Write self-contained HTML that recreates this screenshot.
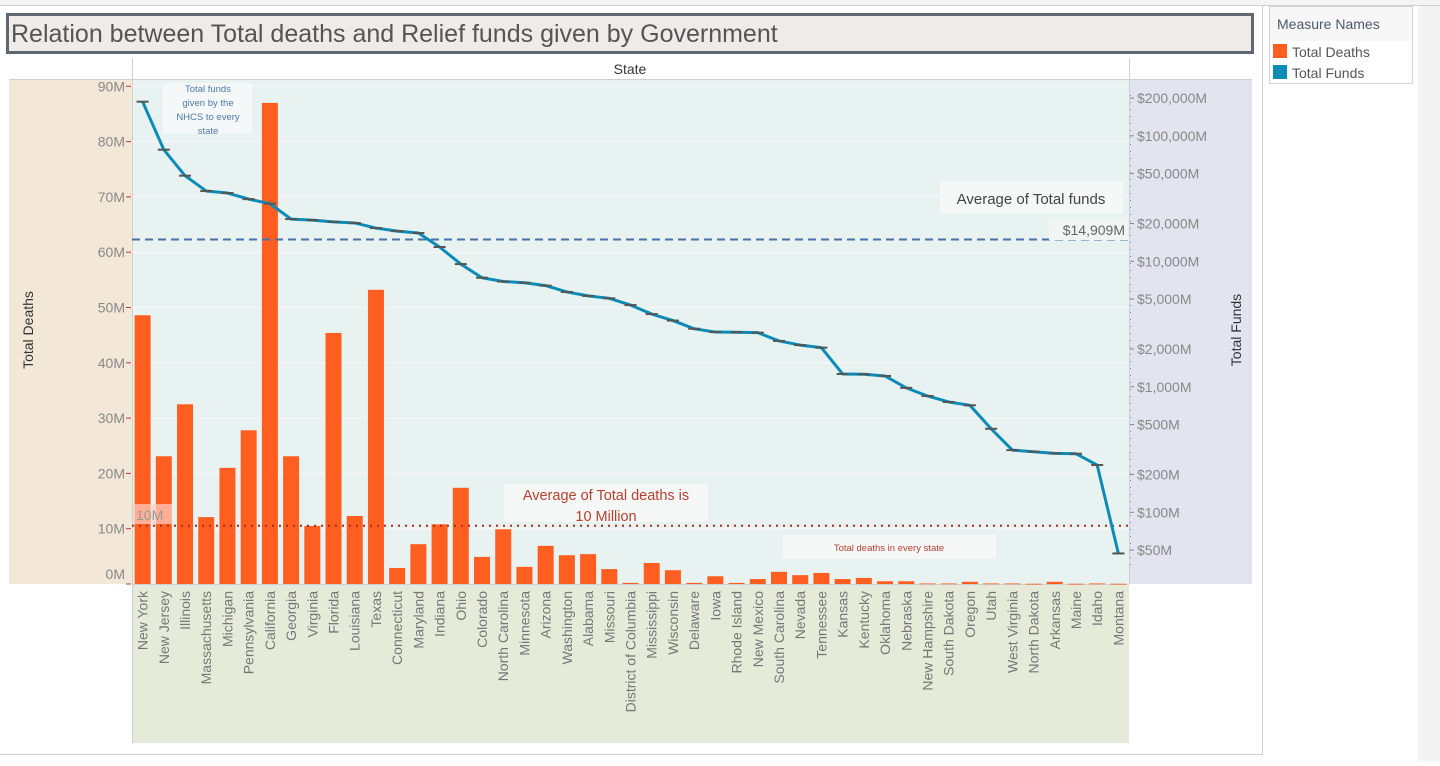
<!DOCTYPE html>
<html><head><meta charset="utf-8"><style>
body{margin:0;width:1440px;height:761px;overflow:hidden;background:#fff;font-family:"Liberation Sans",sans-serif}
svg text{font-family:"Liberation Sans",sans-serif}
</style></head><body>
<svg id="chart" width="1440" height="761" viewBox="0 0 1440 761">
<rect x="0" y="0" width="1440" height="5" fill="#f4f4f4"/>
<line x1="0" y1="5.5" x2="1440" y2="5.5" stroke="#cfcfcf"/>
<rect x="1418" y="6" width="22" height="755" fill="#f3f3f3"/>
<line x1="1262.5" y1="6" x2="1262.5" y2="755" stroke="#cfcfcf"/>
<line x1="0" y1="754.5" x2="1262" y2="754.5" stroke="#cfcfcf"/>
<rect x="7.5" y="14.5" width="1245" height="38" fill="#efebe8" stroke="#5f6770" stroke-width="3"/>
<text x="11" y="42" font-size="25" fill="#555">Relation between Total deaths and Relief funds given by Government</text>
<g>
<rect x="1269.5" y="6.5" width="143" height="77" fill="#fff" stroke="#d4d4d4"/>
<rect x="1270" y="7" width="142" height="34" fill="#f7f7f7"/>
<text x="1277" y="29" font-size="14" fill="#4d5a6b">Measure Names</text>
<g><rect x="1273" y="44" width="14" height="14" fill="#fe5f20"/><text x="1292" y="57" font-size="14" fill="#555">Total Deaths</text></g>
<g><rect x="1273" y="65" width="14" height="14" fill="#0b8bb5"/><text x="1292" y="78" font-size="14" fill="#555">Total Funds</text></g>
</g>
<rect x="9" y="80" width="123" height="504" fill="#f3e8d8"/>
<rect x="1129" y="80" width="123" height="504" fill="#e2e5f0"/>
<rect x="132" y="80" width="997" height="504" fill="#e8f2f0"/>
<rect x="132" y="584" width="997" height="159" fill="#e6ead8"/>
<line x1="132.5" y1="58" x2="132.5" y2="743" stroke="#cfcfcf"/>
<line x1="1129.5" y1="58" x2="1129.5" y2="584" stroke="#cfcfcf"/>
<line x1="9" y1="79.5" x2="1252" y2="79.5" stroke="#cfcfcf"/>
<line x1="132" y1="584.5" x2="1129" y2="584.5" stroke="#cfcfcf"/>
<text x="630" y="74" font-size="14" fill="#333" text-anchor="middle">State</text>
<text transform="translate(33,330) rotate(-90)" font-size="14" fill="#333" text-anchor="middle">Total Deaths</text>
<text transform="translate(1241,330) rotate(-90)" font-size="14" fill="#333" text-anchor="middle">Total Funds</text>
<g id="grid"></g><g id="bars"></g><g id="lines"></g><g id="ann"></g><g id="axes"></g><g id="xlabels"></g>
</svg>
<script>
const states=["New York","New Jersey","Illinois","Massachusetts","Michigan","Pennsylvania","California","Georgia","Virginia","Florida","Louisiana","Texas","Connecticut","Maryland","Indiana","Ohio","Colorado","North Carolina","Minnesota","Arizona","Washington","Alabama","Missouri","District of Columbia","Mississippi","Wisconsin","Delaware","Iowa","Rhode Island","New Mexico","South Carolina","Nevada","Tennessee","Kansas","Kentucky","Oklahoma","Nebraska","New Hampshire","South Dakota","Oregon","Utah","West Virginia","North Dakota","Arkansas","Maine","Idaho","Montana"];
const deathsM=[48.6,23.1,32.5,12.1,21.0,27.8,87.0,23.1,10.5,45.4,12.3,53.2,2.9,7.2,10.8,17.4,4.9,9.9,3.1,6.9,5.2,5.4,2.7,0.2,3.8,2.5,0.2,1.4,0.2,0.9,2.2,1.6,2.0,0.9,1.1,0.5,0.5,0.1,0.1,0.4,0.1,0.1,0.05,0.4,0.05,0.1,0.05];
const fundsM=[187000,77500,48100,36300,35000,31300,28800,21700,21300,20600,20200,18400,17400,16800,13000,9500,7400,6900,6750,6400,5700,5300,5070,4480,3800,3370,2900,2730,2720,2700,2320,2150,2050,1265,1260,1220,980,845,757,712,463,313,304,295,293,238,47];
const leftTicks=[0,10,20,30,40,50,60,70,80,90];
const rightTicks=[50,100,200,500,1000,2000,5000,10000,20000,50000,100000,200000];
const rightTickLabels=["$50M","$100M","$200M","$500M","$1,000M","$2,000M","$5,000M","$10,000M","$20,000M","$50,000M","$100,000M","$200,000M"];
const avgFunds=14909, avgDeaths=10.54;

const NS="http://www.w3.org/2000/svg";
const X0=132,X1=1129,band=(X1-X0)/states.length;
const xc=i=>X0+band*(i+0.5);
const yL=v=>584-v*5.53;
const yR=v=>512.3-125.5*Math.log10(v/100);
function mk(tag,attrs,parent,txt){const e=document.createElementNS(NS,tag);for(const k in attrs)e.setAttribute(k,attrs[k]);if(txt!=null)e.textContent=txt;document.getElementById(parent).appendChild(e);return e;}

leftTicks.forEach(t=>{
  const y=yL(t);
  if(t>0){const g=mk('line',{x1:X0,x2:X1,y1:y,y2:y,stroke:'#f4f8f7','stroke-width':1},'grid');
  
  }
  mk('line',{x1:126,x2:131,y1:y,y2:y,stroke:'#c0392b'},'axes');
  const tx=mk('text',{x:125,y:y-5+5,'font-size':14,fill:'#888','text-anchor':'end'},'axes',t+'M');
  tx.setAttribute('y',t===0?y-5:y+5);
  
  
});
rightTicks.forEach((t,k)=>{
  const y=yR(t);
  mk('line',{x1:1130,x2:1134,y1:y,y2:y,stroke:'#888'},'axes');
  const tx=mk('text',{x:1137,y:y+5,'font-size':14,fill:'#888'},'axes',rightTickLabels[k]);
  
  
});
mk('line',{x1:1130.5,x2:1130.5,y1:95,y2:570,stroke:'#6a8abf','stroke-dasharray':'1 6'},'axes');

deathsM.forEach((v,i)=>{
  const y=yL(v);
  const r=mk('rect',{x:xc(i)-8,y:y,width:16,height:Math.max(584-y,0.8),fill:'#fe5f20'},'bars');
  
  
});
// average lines
const ad=mk('line',{x1:X0,x2:X1,y1:yL(avgDeaths),y2:yL(avgDeaths),stroke:'#a52a1a','stroke-width':2,'stroke-dasharray':'2 5'},'lines');


const af=mk('line',{x1:X0,x2:X1,y1:yR(avgFunds),y2:yR(avgFunds),stroke:'#4a72a8','stroke-width':2,'stroke-dasharray':'8 5'},'lines');


const pts=fundsM.map((v,i)=>xc(i)+','+yR(v)).join(' ');
const pl=mk('polyline',{points:pts,fill:'none',stroke:'#0b8bb5','stroke-width':3,'stroke-linejoin':'round'},'lines');


fundsM.forEach((v,i)=>{
  const m=mk('line',{x1:xc(i)-6,x2:xc(i)+6,y1:yR(v),y2:yR(v),stroke:'#555','stroke-width':2},'lines');
  
  
});
states.forEach((s,i)=>{
  const t=mk('text',{transform:`translate(${xc(i)+5},591) rotate(-90)`,'font-size':14,fill:'#777','text-anchor':'end'},'xlabels',s);
  
  
});
// annotations
function box(x,y,w,h,fill,name){const r=mk('rect',{x:x,y:y,width:w,height:h,fill:fill},'ann');}
box(163,83,89,51,'#f4f8f8','funds-note-box');
[['Total funds',93],['given by the',107],['NHCS to every',121],['state',135]].forEach(a=>{mk('text',{x:208,y:a[1]-1,'font-size':9.5,fill:'#4e79a7','text-anchor':'middle'},'ann',a[0]);});
box(940,181,183,33,'#f4f8f7','avg-funds-box');
mk('text',{x:1031,y:204,'font-size':15,fill:'#444','text-anchor':'middle'},'ann','Average of Total funds');
box(1049,218,79,22,'#f0f4f3','avg-funds-value-box');
mk('text',{x:1125,y:235,'font-size':14,fill:'#666','text-anchor':'end'},'ann','$14,909M');
box(504,484,204,38,'#f6f8f8','avg-deaths-box');
mk('text',{x:606,y:500,'font-size':14.5,fill:'#b5402f','text-anchor':'middle'},'ann','Average of Total deaths is');
mk('text',{x:606,y:521,'font-size':14.5,fill:'#b5402f','text-anchor':'middle'},'ann','10 Million');
box(133,504,39,20,'rgba(255,210,200,0.7)','avg-deaths-value-box');
mk('text',{x:136,y:520,'font-size':14,fill:'#999'},'ann','10M');
box(783,535,213,24,'#f6f8f8','deaths-note-box');
mk('text',{x:889,y:551,'font-size':9.5,fill:'#b5402f','text-anchor':'middle'},'ann','Total deaths in every state');
</script>
</body></html>
